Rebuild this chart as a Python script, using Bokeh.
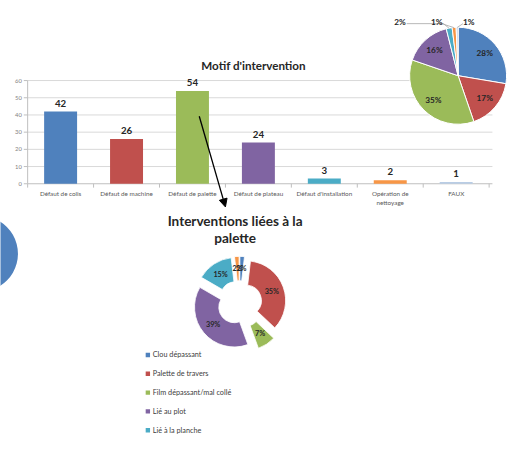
import math
from bokeh.plotting import figure
from bokeh.models import Range1d, Arrow, NormalHead
from bokeh.core.properties import value
from bokeh.embed import file_html
from bokeh.resources import INLINE

# ---------------- data ----------------
bar_title = "Motif d'intervention"
bar_categories = ["Défaut de colis", "Défaut de machine", "Défaut de palette",
                  "Défaut de plateau", "Défaut d'installation",
                  "Opération de\nnettoyage", "FAUX"]
bar_values = [42, 26, 54, 24, 3, 2, 1]
bar_colors = ["#4F81BD", "#C0504D", "#9BBB59", "#8064A2", "#4BACC6", "#F79646", "#B9CDE5"]
y_ticks = [0, 10, 20, 30, 40, 50, 60]
y_tick_labels = ["0", "10", "20", "30", "40", "50", "60"]
pie_labels = ["28%", "17%", "35%", "16%", "2%", "1%", "1%"]

donut_title = "Interventions liées à la\npalette"
donut_categories = ["Clou dépassant", "Palette de travers", "Film dépassant/mal collé",
                    "Lié au plot", "Lié à la planche", "Autre"]
donut_values = [1, 19, 4, 21, 8, 1]
donut_colors = ["#4F81BD", "#C0504D", "#9BBB59", "#8064A2", "#4BACC6", "#F79646"]

left_pie_values = [1]
left_pie_colors = ["#4F81BD"]

# ---------------- layout helpers ----------------
FONT = value("Lato")
W, H = 509, 435
RW, RH = 525.0, 451.0          # design canvas (reference pixels)
S = W / RW                      # screen scale


def fs(px):
    return "%.2fpx" % (px * S)


def py(Y):
    # design Y (down) -> data y (up)
    return RH - Y


p = figure(width=W, height=H, x_range=Range1d(0, RW), y_range=Range1d(0, RH),
           output_backend="svg", toolbar_location=None, x_axis_type=None,
           y_axis_type=None, min_border=0)
p.grid.visible = False
p.outline_line_color = None
p.background_fill_color = "white"
p.border_fill_color = "white"

# ---- bar chart ranges (index -> design X, value -> design Y) ----
bx0, bdx = 62.0, 68.0
base_Y, kpx = 190.0, 107.0 / 60.0
p.extra_x_ranges = {"bx": Range1d((0 - bx0) / bdx, (RW - bx0) / bdx)}
p.extra_y_ranges = {"by": Range1d((0 - py(base_Y)) / kpx, (RH - py(base_Y)) / kpx)}
n = len(bar_values)
idx = list(range(n))
left_i, right_i = -0.5, n - 0.5

grid_vals = [t for t in y_ticks if t > 0]
p.segment(x0=[left_i] * len(grid_vals), x1=[right_i + 0.05] * len(grid_vals),
          y0=grid_vals, y1=grid_vals, line_color="#D9D9D9", line_width=1,
          x_range_name="bx", y_range_name="by")
p.segment(x0=[left_i], x1=[right_i + 0.05], y0=[0], y1=[0], line_color="#BFBFBF",
          line_width=1, x_range_name="bx", y_range_name="by")
p.segment(x0=[left_i], x1=[left_i], y0=[0], y1=[y_ticks[-1]], line_color="#BFBFBF",
          line_width=1, x_range_name="bx", y_range_name="by")
tick_dx = 4.0 / bdx
p.segment(x0=[left_i - tick_dx] * len(y_ticks), x1=[left_i] * len(y_ticks),
          y0=y_ticks, y1=y_ticks, line_color="#BFBFBF", line_width=1,
          x_range_name="bx", y_range_name="by")
tick_dy = 4.0 / kpx
bounds = [i - 0.5 for i in range(n + 1)]
p.segment(x0=bounds, x1=bounds, y0=[0] * len(bounds), y1=[-tick_dy] * len(bounds),
          line_color="#BFBFBF", line_width=1, x_range_name="bx", y_range_name="by")

p.vbar(x=idx, top=bar_values, bottom=0, width=0.5, fill_color=bar_colors,
       line_color=None, x_range_name="bx", y_range_name="by")

p.text(x=[left_i] * len(y_ticks), y=y_ticks, text=y_tick_labels, x_offset=-6 * S,
       text_align="right", text_baseline="middle", text_font=FONT,
       text_font_size=fs(6), text_color="#7F7F7F", x_range_name="bx", y_range_name="by")
p.text(x=idx, y=[0] * n, text=bar_categories, y_offset=6 * S, text_align="center",
       text_baseline="top", text_font=FONT, text_font_size=fs(6.5),
       text_line_height=1.3, text_color="#595959", x_range_name="bx", y_range_name="by")
p.text(x=idx, y=bar_values, text=[str(v) for v in bar_values], y_offset=-5 * S,
       text_align="center", text_baseline="bottom", text_font=FONT,
       text_font_size=fs(10), text_font_style="bold", text_color="#262626",
       x_range_name="bx", y_range_name="by")
p.text(x=[261], y=[py(67)], text=[bar_title], text_align="center",
       text_baseline="middle", text_font=FONT, text_font_size=fs(12),
       text_font_style="bold", text_color="#262626")

# ---- pie (top right) ----
pcx, pcy, pR = 472.0, py(78), 50.0
tot = float(sum(bar_values))
fr = [v / tot for v in bar_values]
cum = [sum(fr[:i]) for i in range(n + 1)]
st = [math.pi / 2 - 2 * math.pi * cum[i] for i in range(n)]
en = [math.pi / 2 - 2 * math.pi * cum[i + 1] for i in range(n)]
p.wedge(x=pcx, y=pcy, radius=pR, start_angle=st, end_angle=en, direction="clock",
        fill_color=bar_colors, line_color="white", line_width=1)
mids = [2 * math.pi * (cum[i] + cum[i + 1]) / 2 for i in range(n)]
in_i = [0, 1, 2, 3]
p.text(x=[pcx + 0.72 * pR * math.sin(mids[i]) for i in in_i],
       y=[pcy + 0.72 * pR * math.cos(mids[i]) for i in in_i],
       text=[pie_labels[i] for i in in_i], text_align="center", text_baseline="middle",
       text_font=FONT, text_font_size=fs(8.5), text_font_style="bold", text_color="#262626")
out_i = [4, 5, 6]
out_pos = [(412, 22), (450, 22), (483, 22)]
edge = [(pcx + pR * math.sin(mids[i]), pcy + pR * math.cos(mids[i])) for i in out_i]
xs = [[419, 457, edge[0][0]], [455, edge[1][0]], [477, edge[2][0]]]
ys = [[py(24), py(24), edge[0][1]], [py(24), edge[1][1]], [py(24), edge[2][1]]]
p.multi_line(xs=xs, ys=ys, line_color="#A6A6A6", line_width=0.8)
p.text(x=[q[0] for q in out_pos], y=[py(q[1]) for q in out_pos],
       text=[pie_labels[i] for i in out_i], text_align="center", text_baseline="middle",
       text_font=FONT, text_font_size=fs(8.5), text_font_style="bold", text_color="#262626")

# ---- arrow ----
p.add_layout(Arrow(x_start=205, y_start=py(120), x_end=232, y_end=py(214),
                   line_width=1.3, line_color="black",
                   end=NormalHead(size=8, fill_color="black", line_color="black")))

# ---- donut ----
p.text(x=[242], y=[py(237.5)], text=[donut_title], text_align="center",
       text_baseline="middle", text_font=FONT, text_font_size=fs(14),
       text_font_style="bold", text_line_height=1.1, text_color="#262626")
dcx, dcy = 246.5, py(313.5)
Ro, Ri = 41.0, 16.0
explode = [7, 7, 10, 7, 7, 7]
m = len(donut_values)
dt = float(sum(donut_values))
dfr = [v / dt for v in donut_values]
dcum = [sum(dfr[:i]) for i in range(m + 1)]
dst = [math.pi / 2 - 2 * math.pi * dcum[i] for i in range(m)]
den = [math.pi / 2 - 2 * math.pi * dcum[i + 1] for i in range(m)]
dmid = [2 * math.pi * (dcum[i] + dcum[i + 1]) / 2 for i in range(m)]
dx = [dcx + explode[i] * math.sin(dmid[i]) for i in range(m)]
dy = [dcy + explode[i] * math.cos(dmid[i]) for i in range(m)]
p.annular_wedge(x=dx, y=dy, inner_radius=Ri, outer_radius=Ro, start_angle=dst,
                end_angle=den, direction="clock", fill_color=donut_colors,
                line_color="white", line_width=0.8)
rl = (Ro + Ri) / 2
p.text(x=[dx[i] + rl * math.sin(dmid[i]) for i in range(m)],
       y=[dy[i] + rl * math.cos(dmid[i]) for i in range(m)],
       text=["%d%%" % round(f * 100) for f in dfr], text_align="center",
       text_baseline="middle", text_font=FONT, text_font_size=fs(7.5),
       text_font_style="bold", text_color="#262626")

# legend (entries visible in the picture)
nl = 5
leg_Y = [367.5 + 19.5 * k for k in range(nl)]
p.scatter(x=[152] * nl, y=[py(Y) for Y in leg_Y], marker="square", size=4.5 * S,
          fill_color=donut_colors[:nl], line_color=None)
p.text(x=[157] * nl, y=[py(Y) for Y in leg_Y], text=donut_categories[:nl],
       text_align="left", text_baseline="middle", text_font=FONT,
       text_font_size=fs(7.5), text_color="#404040")

# ---- partial pie at left edge ----
lcum = [sum(left_pie_values[:i]) / float(sum(left_pie_values)) for i in range(len(left_pie_values) + 1)]
p.wedge(x=-21, y=py(341), radius=39,
        start_angle=[math.pi / 2 - 2 * math.pi * lcum[i] for i in range(len(left_pie_values))],
        end_angle=[math.pi / 2 - 2 * math.pi * lcum[i + 1] - 1e-6 for i in range(len(left_pie_values))],
        direction="clock", fill_color=left_pie_colors, line_color=None)

open("out.html", "w").write(file_html(p, INLINE))
